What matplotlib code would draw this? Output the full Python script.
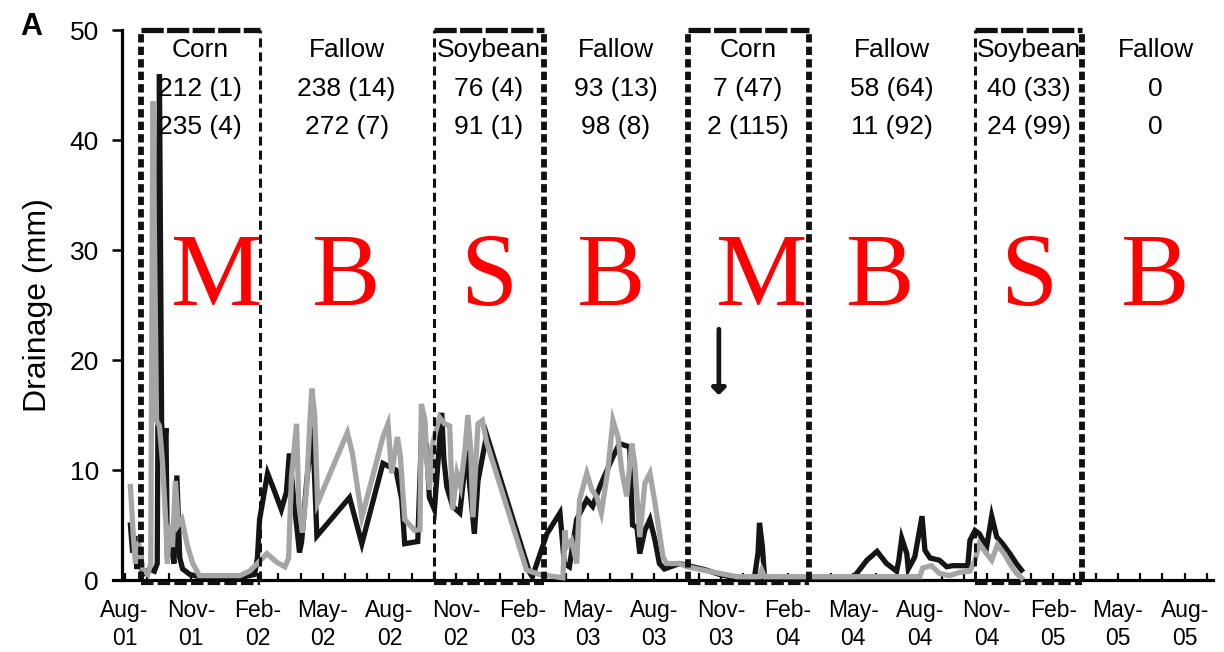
import numpy as np
import matplotlib
matplotlib.use('Agg')
import matplotlib.pyplot as plt
import matplotlib.dates as mdates

plt.rcParams['font.family'] = ['Liberation Sans', 'DejaVu Sans']
plt.rcParams['lines.scale_dashes'] = False

start = np.datetime64('2001-08-01')

# drainage (mm), sampled as days after 1 Aug 2001
black_day = [8, 11, 14, 17, 21, 25, 34, 41, 45, 48, 51, 54, 57, 59, 63, 68, 72, 76, 80, 90,
             103, 165, 179, 183, 186, 190, 197, 207, 216, 223, 227, 233, 241, 244, 251, 259,
             265, 310, 327, 356, 374, 382, 386, 404, 409, 416, 420, 427, 437, 440, 444, 452,
             462, 466, 471, 482, 487, 499, 558, 562, 582, 600, 606, 613, 623, 637, 645, 655,
             673, 682, 696, 700, 706, 710, 717, 724, 731, 737, 744, 765, 783, 802, 820, 834,
             868, 873, 875, 879, 882, 1003, 1009, 1023, 1037, 1050, 1064, 1067, 1071, 1078,
             1080, 1089, 1099, 1103, 1110, 1123, 1133, 1141, 1162, 1165, 1172, 1178, 1188,
             1195, 1202, 1210, 1220, 1229, 1236]
black_mm = [5.0, 2.5, 4.0, 1.0, 3.0, 0.5, 1.0, 0.8, 1.5, 46.0, 14.3, 11.0, 13.8, 2.0, 4.0, 1.5,
            9.5, 2.0, 1.0, 0.5, 0.3, 0.3, 0.5, 2.0, 5.5, 7.0, 9.7, 8.0, 6.4, 8.0, 11.5, 7.5,
            2.5, 3.5, 9.0, 14.0, 4.0, 7.5, 3.3, 10.6, 10.0, 7.3, 3.3, 3.5, 13.0, 12.3, 7.5,
            6.4, 15.2, 11.0, 8.5, 6.7, 6.1, 8.5, 11.8, 4.2, 9.0, 13.2, 0.7, 0.3, 4.2, 6.1,
            1.5, 1.2, 5.5, 7.3, 6.7, 8.5, 11.2, 12.4, 12.1, 5.0, 4.8, 2.4, 4.5, 5.5, 3.6, 1.5,
            1.0, 1.5, 1.2, 0.9, 0.5, 0.3, 0.2, 2.5, 5.2, 3.0, 0.2, 0.2, 0.6, 1.8, 2.6, 1.5,
            0.8, 1.8, 3.8, 2.4, 1.0, 2.1, 5.8, 2.7, 2.0, 1.8, 1.2, 1.3, 1.3, 3.6, 4.5, 4.2,
            3.0, 5.8, 3.9, 3.3, 2.4, 1.5, 0.9]

gray_day = [8, 12, 15, 19, 25, 32, 36, 39, 44, 48, 52, 57, 59, 62, 66, 70, 74, 79, 87, 94,
            103, 159, 172, 183, 196, 210, 221, 226, 230, 237, 240, 245, 251, 255, 258, 262,
            266, 307, 314, 327, 345, 356, 363, 368, 376, 380, 386, 400, 407, 409, 414, 416,
            420, 425, 434, 441, 448, 452, 458, 463, 469, 473, 477, 480, 487, 493, 499, 554,
            572, 604, 607, 609, 616, 623, 627, 637, 644, 651, 657, 666, 673, 680, 685, 692,
            699, 703, 710, 717, 724, 731, 735, 742, 747, 765, 775, 820, 844, 875, 878, 882,
            1096, 1100, 1112, 1123, 1137, 1151, 1165, 1172, 1178, 1188, 1195, 1203, 1213,
            1220, 1229, 1236]
gray_mm = [8.5, 4.0, 1.5, 3.5, 1.0, 0.5, 1.5, 43.5, 14.5, 14.0, 10.9, 5.0, 1.5, 5.0, 3.0, 9.0,
           5.0, 5.5, 3.0, 1.5, 0.4, 0.4, 0.8, 1.5, 2.4, 1.6, 1.2, 2.0, 9.4, 14.2, 7.0, 4.3,
           8.5, 14.0, 17.4, 15.0, 7.0, 13.4, 11.5, 5.7, 10.2, 13.0, 14.2, 9.7, 13.0, 11.3,
           5.5, 4.5, 4.6, 16.0, 14.5, 11.3, 8.2, 12.5, 14.8, 14.2, 14.0, 6.4, 9.7, 8.5, 11.8,
           15.0, 11.8, 5.7, 14.2, 14.5, 12.5, 0.9, 0.5, 0.2, 4.5, 3.0, 3.6, 1.5, 7.3, 9.7,
           8.2, 7.5, 6.1, 10.0, 14.5, 13.0, 10.0, 7.6, 12.4, 10.6, 3.9, 8.8, 9.7, 7.0, 5.2,
           2.1, 1.5, 1.5, 1.2, 0.6, 0.3, 0.3, 0.9, 0.3, 0.3, 1.1, 1.3, 0.6, 0.4, 0.7, 0.8,
           1.8, 3.3, 2.4, 1.8, 3.2, 2.3, 1.5, 0.6, 0.2]

# rotation periods
bounds = ['2001-08-24', '2002-02-03', '2002-10-01', '2003-03-02', '2003-09-16',
          '2004-03-01', '2004-10-16', '2005-03-13', '2005-10-01']
crops = ['Corn', 'Fallow', 'Soybean', 'Fallow', 'Corn', 'Fallow', 'Soybean', 'Fallow']
letters = ['M', 'B', 'S', 'B', 'M', 'B', 'S', 'B']
row1 = ['212 (1)', '238 (14)', '76 (4)', '93 (13)', '7 (47)', '58 (64)', '40 (33)', '0']
row2 = ['235 (4)', '272 (7)', '91 (1)', '98 (8)', '2 (115)', '11 (92)', '24 (99)', '0']
arrow_date = '2003-10-29'
arrow_from, arrow_to = 22.8, 16.8

bounds = np.array(bounds, dtype='datetime64[D]')
bx = start + np.array(black_day, dtype='timedelta64[D]')
gx = start + np.array(gray_day, dtype='timedelta64[D]')

fig = plt.figure(figsize=(12.24, 6.52), dpi=100)
ax = fig.add_axes([113 / 1224, 1 - 580 / 652, 1100 / 1224, 550 / 652])

ax.plot(bx, black_mm, color='#151515', lw=3.8, solid_joinstyle='miter', clip_on=False, zorder=3)
ax.plot(gx, gray_mm, color='#a5a5a5', lw=3.8, solid_joinstyle='miter', clip_on=False, zorder=4)

# dashed boxes round the crop years (left / right edge weights)
edge_w = {0: (4.2, 2.2), 2: (2.2, 4.2), 4: (4.2, 4.2), 6: (2.2, 4.2)}
for i, (lw_l, lw_r) in edge_w.items():
    x0, x1 = bounds[i], bounds[i + 1]
    kw = dict(color='#111111', clip_on=False, zorder=5, solid_capstyle='butt')
    ax.plot([x0, x1], [50, 50], lw=3.8, dashes=(16, 2.4), **kw)
    ax.plot([x0, x1], [-0.25, -0.25], lw=3.0, dashes=(9, 3), **kw)
    ax.plot([x0, x0], [0, 50], lw=lw_l, dashes=(6, 3) if lw_l > 3 else (6.5, 3.6), **kw)
    ax.plot([x1, x1], [0, 50], lw=lw_r, dashes=(6, 3) if lw_r > 3 else (6.5, 3.6), **kw)

# letter nudges (points) so the big letters sit as in the corn boxes
nudge = [12, 0, 0, -3, 10, -8, 0, 0]
for i in range(len(crops)):
    mid = bounds[i] + (bounds[i + 1] - bounds[i]) / 2
    ax.text(mid, 48.2, crops[i], ha='center', va='center', fontsize=19, zorder=6)
    ax.text(mid, 44.6, row1[i], ha='center', va='center', fontsize=19, zorder=6)
    ax.text(mid, 41.2, row2[i], ha='center', va='center', fontsize=19, zorder=6)
    ax.annotate(letters[i], (mid, 25), xytext=(nudge[i], 0), textcoords='offset points',
                ha='center', va='baseline', fontsize=74, color='#ff0000',
                family='Liberation Serif', zorder=2)

ad = np.datetime64(arrow_date)
ax.annotate('', xy=(ad, arrow_to), xytext=(ad, arrow_from),
            arrowprops=dict(arrowstyle='-|>,head_width=0.2,head_length=0.2', lw=3.4,
                            color='#151515', shrinkA=0, shrinkB=0, mutation_scale=20))

ax.set_ylim(0, 50)
ax.set_xlim(start - np.timedelta64(16, 'D'), start + np.timedelta64(1500, 'D'))
ax.set_yticks(range(0, 51, 10))
ax.xaxis.set_major_locator(mdates.MonthLocator(bymonth=[2, 5, 8, 11]))
ax.xaxis.set_minor_locator(mdates.MonthLocator())
ax.xaxis.set_major_formatter(mdates.DateFormatter('%b-\n%y'))
for lab in ax.get_xticklabels():
    lab.set_linespacing(1.25)

ax.spines['top'].set_visible(False)
ax.spines['right'].set_visible(False)
ax.spines['left'].set_position(('data', mdates.date2num(start - np.timedelta64(3, 'D'))))
ax.spines['left'].set_linewidth(2.3)
ax.spines['bottom'].set_linewidth(2.3)
ax.tick_params(axis='x', which='both', direction='in', length=5, width=1.6, pad=14,
               labelsize=16.5)
ax.tick_params(axis='y', direction='out', length=7, width=1.8, pad=10, labelsize=19)
ax.set_ylabel('Drainage (mm)', fontsize=23, labelpad=12)

fig.text(20 / 1224, 1 - 27 / 652, 'A', fontsize=22, fontweight='bold', va='center')

fig.savefig('out.png', dpi=100)
